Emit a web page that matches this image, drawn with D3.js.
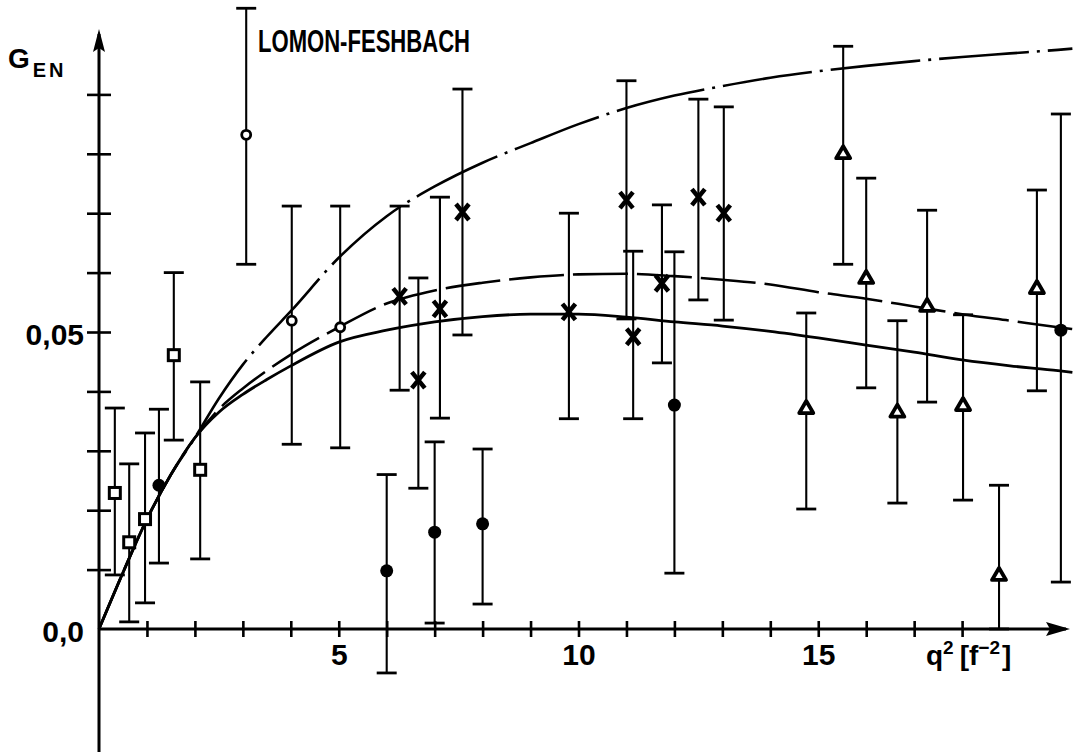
<!DOCTYPE html>
<html>
<head>
<meta charset="utf-8">
<script src="https://cdn.jsdelivr.net/npm/d3@7"></script>
<style>
  body { margin: 0; background: #fff; }
  svg text { font-family: "Liberation Sans", Arial, sans-serif; font-weight: bold; fill: #000; }
</style>
</head>
<body>
<svg id="chart" width="1073" height="756"></svg>
<script>
// ---- data: q² in f⁻², G_EN with lower / upper error limits ----
const squareX  = [0.33, 0.63, 0.96, 1.56, 2.11];
const squareY  = [0.0229, 0.0146, 0.0185, 0.0461, 0.0268];
const squareLo = [0.0091, 0.0012, 0.0044, 0.0318, 0.0118];
const squareHi = [0.0372, 0.0278, 0.0330, 0.0600, 0.0416];

const openCircleX  = [3.07, 4.02, 5.03];
const openCircleY  = [0.0832, 0.0519, 0.0508];
const openCircleLo = [0.0614, 0.0311, 0.0305];
const openCircleHi = [0.1045, 0.0712, 0.0712];

const crossX  = [6.27, 6.66, 7.11, 7.58, 9.80, 11.00, 11.14, 11.74, 12.50, 13.03];
const crossY  = [0.0560, 0.0419, 0.0539, 0.0702, 0.0534, 0.0722, 0.0492, 0.0582, 0.0727, 0.0700];
const crossLo = [0.0402, 0.0237, 0.0355, 0.0495, 0.0354, 0.0522, 0.0354, 0.0448, 0.0554, 0.0520];
const crossHi = [0.0712, 0.0591, 0.0727, 0.0909, 0.0700, 0.0923, 0.0636, 0.0714, 0.0892, 0.0879];

const dotX  = [1.25, 6.00, 7.00, 8.00, 12.00, 20.06];
const dotY  = [0.0242, 0.0098, 0.0163, 0.0177, 0.0377, 0.0503];
const dotLo = [0.0111, -0.0074, 0.0010, 0.0042, 0.0094, 0.0079];
const dotHi = [0.0370, 0.0260, 0.0315, 0.0303, 0.0635, 0.0867];

const triX  = [14.75, 15.52, 16.00, 16.65, 17.27, 18.02, 18.77, 19.56];
const triY  = [0.0372, 0.0801, 0.0591, 0.0366, 0.0544, 0.0377, 0.0091, 0.0574];
const triLo = [0.0202, 0.0614, 0.0406, 0.0212, 0.0382, 0.0217, 0.0000, 0.0401];
const triHi = [0.0532, 0.0981, 0.0759, 0.0519, 0.0705, 0.0529, 0.0242, 0.0739];

// ---- theoretical curves ----
const curveX     = [0, 0.5, 1, 1.5, 2, 2.5, 3, 3.5, 4, 5, 6, 7, 8, 9, 10, 11, 12, 13, 14, 15, 16, 17, 18, 19, 20, 20.3];
const dashDotY   = [0, 0.0095, 0.0185, 0.0260, 0.0322, 0.0388, 0.0445, 0.0492, 0.0535, 0.0625, 0.0695, 0.0745, 0.0785, 0.0818, 0.0850, 0.0877, 0.0898, 0.0914, 0.0928, 0.0939, 0.0948, 0.0956, 0.0963, 0.0969, 0.0975, 0.0977];
const dashedY    = [0, 0.0095, 0.0185, 0.0260, 0.0322, 0.0370, 0.0405, 0.0435, 0.0462, 0.0508, 0.0548, 0.0570, 0.0583, 0.0592, 0.0597, 0.0598, 0.0594, 0.0588, 0.0580, 0.0567, 0.0556, 0.0543, 0.0530, 0.0519, 0.0508, 0.0505];
const solidY     = [0, 0.0095, 0.0185, 0.0260, 0.0322, 0.0365, 0.0395, 0.0420, 0.0443, 0.0483, 0.0503, 0.0517, 0.0526, 0.0530, 0.0530, 0.0525, 0.0517, 0.0510, 0.0501, 0.0490, 0.0478, 0.0466, 0.0453, 0.0443, 0.0435, 0.0432];

// ---- axis ticks ----
const xTicks = d3.range(1, 19);
const xLabels = [5, 10, 15];
const yTicks = [0.01, 0.02, 0.03, 0.04, 0.05, 0.06, 0.07, 0.08, 0.09];
const yLabels = [0, 0.05];
const yLabelText = ["0,0", "0,05"];

const svg = d3.select("#chart");
const x = d3.scaleLinear().domain([0, 20]).range([99, 1058]);
const y = d3.scaleLinear().domain([0, 0.1]).range([629, 35]);

const ink = "#000";

// ---- axes ----
const axes = svg.append("g");
axes.append("line").attr("x1", x(0)).attr("x2", 1066).attr("y1", y(0)).attr("y2", y(0))
  .attr("stroke", ink).attr("stroke-width", 3);
axes.append("line").attr("x1", x(0)).attr("x2", x(0)).attr("y1", 752).attr("y2", 34)
  .attr("stroke", ink).attr("stroke-width", 3);
// arrow heads
axes.append("path").attr("d", `M1070,${y(0)} L1046,${y(0) - 7} L1050,${y(0)} L1046,${y(0) + 7} Z`).attr("fill", ink);
axes.append("path").attr("d", `M${x(0)},29 L${x(0) - 6},52 L${x(0)},48 L${x(0) + 6},52 Z`).attr("fill", ink);

// x tick marks crossing the axis
const xTickAxis = d3.axisBottom(x).tickValues(xTicks).tickSize(16).tickFormat("");
const gxt = svg.append("g").attr("transform", `translate(0,${y(0) - 8})`).call(xTickAxis);
gxt.select(".domain").remove();
gxt.selectAll(".tick line").attr("stroke", ink).attr("stroke-width", 2.6);

const xLabelAxis = d3.axisBottom(x).tickValues(xLabels).tickSize(0).tickPadding(15).tickFormat(d3.format("d"));
const gxl = svg.append("g").attr("transform", `translate(0,${y(0)})`).call(xLabelAxis);
gxl.select(".domain").remove();
gxl.selectAll("text").attr("font-size", 30).attr("font-family", null);

// y tick marks crossing the axis
const yTickAxis = d3.axisLeft(y).tickValues(yTicks).tickSize(24).tickFormat("");
const gyt = svg.append("g").attr("transform", `translate(${x(0) + 12},0)`).call(yTickAxis);
gyt.select(".domain").remove();
gyt.selectAll(".tick line").attr("stroke", ink).attr("stroke-width", 2.6);

const yLabelAxis = d3.axisLeft(y).tickValues(yLabels).tickSize(0).tickPadding(15)
  .tickFormat((d, i) => yLabelText[i]);
const gyl = svg.append("g").attr("transform", `translate(${x(0)},0)`).call(yLabelAxis);
gyl.select(".domain").remove();
gyl.selectAll("text").attr("font-size", 30).attr("font-family", null).attr("dy", "0.4em");

// axis titles
const gTitle = svg.append("text").attr("x", 8).attr("y", 68).attr("font-size", 28);
gTitle.append("tspan").text("G");
gTitle.append("tspan").attr("dx", 3).attr("dy", 9).attr("font-size", 20).attr("letter-spacing", 3).text("EN");

const qTitle = svg.append("text").attr("x", 926).attr("y", 665).attr("font-size", 28);
qTitle.append("tspan").text("q");
qTitle.append("tspan").attr("dy", -11).attr("font-size", 19).text("2");
qTitle.append("tspan").attr("dx", 6).attr("dy", 11).text("[");
qTitle.append("tspan").text("f");
qTitle.append("tspan").attr("dy", -11).attr("font-size", 19).text("−2");
qTitle.append("tspan").attr("dx", 2).attr("dy", 11).text("]");

svg.append("text").attr("x", 258).attr("y", 52).attr("font-size", 31)
  .attr("textLength", 212).attr("lengthAdjust", "spacingAndGlyphs").text("LOMON-FESHBACH");

// ---- theory curves ----
const line = (ys) => d3.line().x((d, i) => x(curveX[i])).y(d => y(d)).curve(d3.curveMonotoneX)(ys);
const curves = svg.append("g").attr("fill", "none").attr("stroke", ink).attr("stroke-linecap", "butt");
curves.append("path").attr("d", line(solidY)).attr("stroke-width", 2.8);
curves.append("path").attr("d", line(dashedY)).attr("stroke-width", 2.6).attr("stroke-dasharray", "55,9");
curves.append("path").attr("d", line(dashDotY)).attr("stroke-width", 2.6).attr("stroke-dasharray", "90,8,3,8");

// ---- error bars ----
function errorBars(xs, lo, hi) {
  const g = svg.append("g").attr("stroke", ink);
  xs.forEach((xv, i) => {
    g.append("line").attr("x1", x(xv)).attr("x2", x(xv)).attr("y1", y(lo[i])).attr("y2", y(hi[i])).attr("stroke-width", 2.1);
    [lo[i], hi[i]].forEach(v => {
      g.append("line").attr("x1", x(xv) - 10).attr("x2", x(xv) + 10).attr("y1", y(v)).attr("y2", y(v)).attr("stroke-width", 2.8);
    });
  });
}
errorBars(squareX, squareLo, squareHi);
errorBars(openCircleX, openCircleLo, openCircleHi);
errorBars(crossX, crossLo, crossHi);
errorBars(dotX, dotLo, dotHi);
errorBars(triX, triLo, triHi);

// ---- markers ----
const marks = svg.append("g");
squareX.forEach((xv, i) => {
  marks.append("rect").attr("x", x(xv) - 5.5).attr("y", y(squareY[i]) - 5.5).attr("width", 11).attr("height", 11)
    .attr("fill", "#fff").attr("stroke", ink).attr("stroke-width", 3);
});
openCircleX.forEach((xv, i) => {
  marks.append("circle").attr("cx", x(xv)).attr("cy", y(openCircleY[i])).attr("r", 4.5)
    .attr("fill", "#fff").attr("stroke", ink).attr("stroke-width", 2.8);
});
crossX.forEach((xv, i) => {
  const cx = x(xv), cy = y(crossY[i]);
  marks.append("path").attr("d", `M${cx - 6.5},${cy - 8} L${cx + 6.5},${cy + 8} M${cx + 6.5},${cy - 8} L${cx - 6.5},${cy + 8}`)
    .attr("stroke", ink).attr("stroke-width", 4.5);
});
dotX.forEach((xv, i) => {
  marks.append("circle").attr("cx", x(xv)).attr("cy", y(dotY[i])).attr("r", 6.5).attr("fill", ink);
});
triX.forEach((xv, i) => {
  const cx = x(xv), cy = y(triY[i]);
  marks.append("path").attr("d", `M${cx},${cy - 7} L${cx + 7},${cy + 5} L${cx - 7},${cy + 5} Z`)
    .attr("fill", "#fff").attr("stroke", ink).attr("stroke-width", 3.8).attr("stroke-linejoin", "round");
});
</script>
</body>
</html>
